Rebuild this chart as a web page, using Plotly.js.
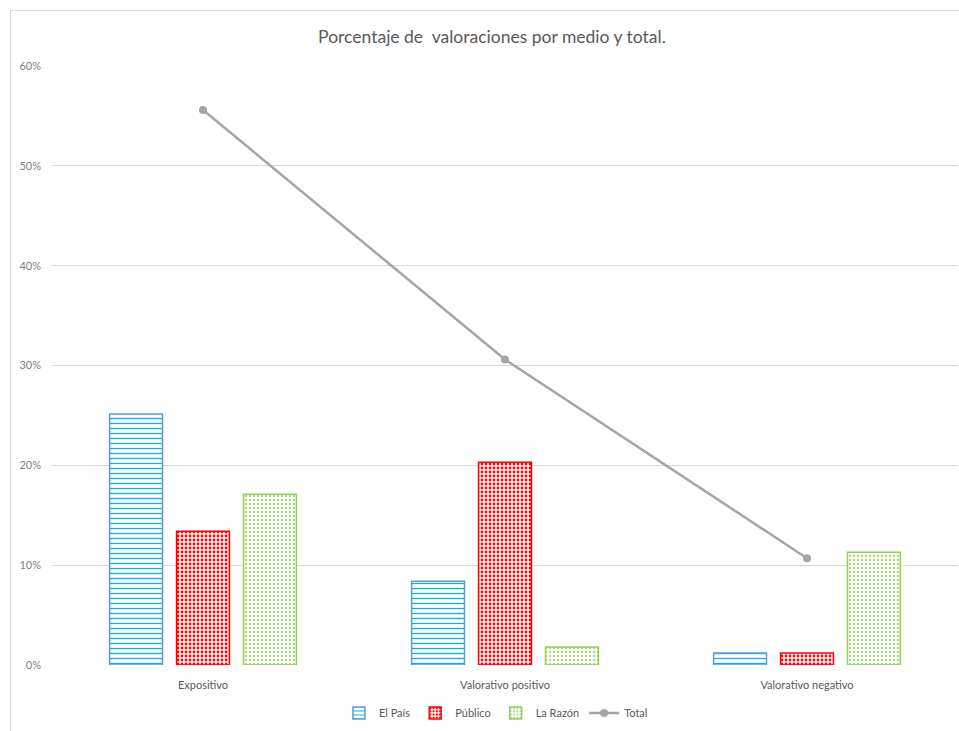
<!DOCTYPE html>
<html>
<head>
<meta charset="utf-8">
<script src="https://cdn.plot.ly/plotly-3.0.1.min.js"></script>
<style>
html,body{margin:0;padding:0;background:#fff;}
#chart{width:959px;height:731px;position:absolute;left:0;top:0;}
#frame{position:absolute;left:10px;top:10px;width:960px;height:730px;border:1px solid #d9d9d9;pointer-events:none;}
</style>
</head>
<body>
<div id="chart"></div>
<div id="frame"></div>
<script>
const categories = ["Expositivo", "Valorativo positivo", "Valorativo negativo"];
const elPais = [0.2515, 0.084, 0.012];
const publico = [0.134, 0.203, 0.012];
const laRazon = [0.171, 0.018, 0.113];
const total = [0.556, 0.306, 0.107];
const yTicks = [0, 0.1, 0.2, 0.3, 0.4, 0.5, 0.6];
const yTickLabels = ["0%", "10%", "20%", "30%", "40%", "50%", "60%"];

const font = "Lato, 'Open Sans', 'Liberation Sans', sans-serif";

const traces = [
  {
    type: "bar", name: "El País", x: categories, y: elPais,
    marker: {
      color: "white",
      line: {color: "#5B9BD5", width: 1.5},
      pattern: {shape: "-", fgcolor: "#00B0F0", bgcolor: "white", size: 5, solidity: 0.25}
    },
    hoverinfo: "none"
  },
  {
    type: "bar", name: "Público", x: categories, y: publico,
    marker: {
      color: "white",
      line: {color: "#FF0000", width: 1.5},
      pattern: {shape: ".", fgcolor: "#FF0000", bgcolor: "white", size: 4, solidity: 0.4}
    },
    hoverinfo: "none"
  },
  {
    type: "bar", name: "La Razón", x: categories, y: laRazon,
    marker: {
      color: "white",
      line: {color: "#92D050", width: 1.5},
      pattern: {shape: ".", fgcolor: "#A9DB80", bgcolor: "white", size: 4, solidity: 0.3}
    },
    hoverinfo: "none"
  },
  {
    type: "scatter", mode: "lines+markers", name: "Total", x: categories, y: total,
    line: {color: "#A5A5A5", width: 2.5},
    marker: {color: "#A5A5A5", size: 8, symbol: "circle"},
    hoverinfo: "none"
  }
];

const layout = {
  width: 959, height: 731,
  margin: {l: 52, r: 1, t: 66, b: 66},
  paper_bgcolor: "white", plot_bgcolor: "white",
  font: {family: font, color: "#595959"},
  title: {
    text: "Porcentaje de &nbsp;valoraciones por medio y total.",
    font: {family: font, size: 17.5, color: "#595959"},
    xref: "container", x: 0.513, xanchor: "center",
    yref: "container", y: 0.949, yanchor: "middle"
  },
  barmode: "group",
  bargap: 0.335,
  bargroupgap: 0.21,
  xaxis: {
    type: "category",
    showgrid: false, zeroline: false, showline: false,
    ticks: "", ticklabelstandoff: 12,
    tickfont: {family: font, size: 11, color: "#595959"}
  },
  yaxis: {
    range: [0, 0.6],
    tickvals: yTicks, ticktext: yTickLabels,
    showgrid: true, gridcolor: "#D9D9D9", gridwidth: 1,
    zeroline: false, showline: false, ticks: "",
    ticklabelstandoff: 10,
    tickfont: {family: font, size: 11, color: "#7F7F7F"}
  },
  legend: {
    orientation: "h", x: 0.49, xanchor: "center", y: -0.08, yanchor: "middle",
    font: {family: font, size: 11, color: "#595959"},
    itemwidth: 30, traceorder: "normal"
  },
  showlegend: true
};

Plotly.newPlot("chart", traces, layout, {displayModeBar: false, staticPlot: true});
</script>
</body>
</html>
